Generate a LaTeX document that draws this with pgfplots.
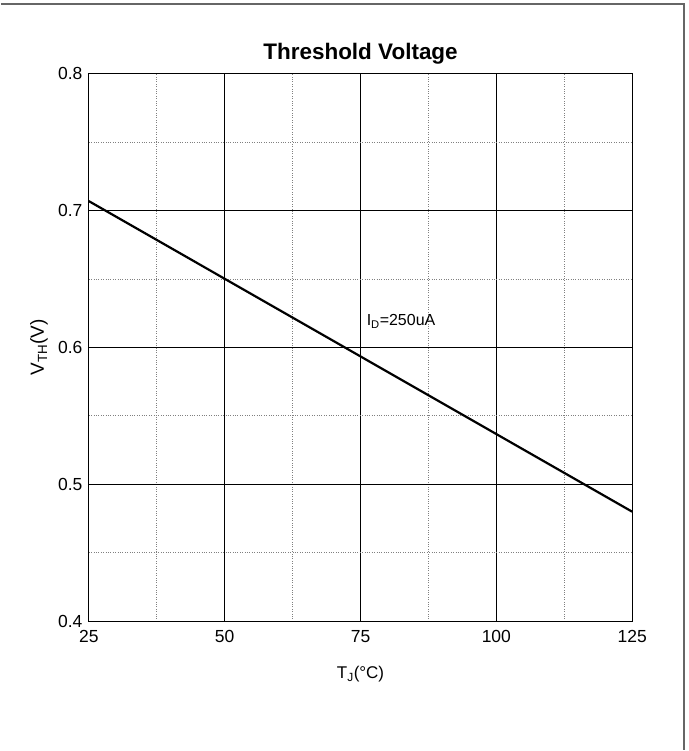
\documentclass[border=0pt]{standalone}
\usepackage{pgfplots}
\pgfplotsset{compat=1.18}
\usepackage{fontspec}
\setmainfont{Liberation Sans}
\begin{document}
\begin{tikzpicture}[x=1pt,y=1pt]
\path (0,0) rectangle (688,751);
\draw[line width=2pt, gray!80!black] (0,747) -- (684,747) -- (684,0);
\begin{axis}[
  at={(88pt,129pt)}, anchor=origin,
  scale only axis, width=544pt, height=548pt,
  xmin=25, xmax=125, ymin=0.4, ymax=0.8,
  xtick={25,50,75,100,125},
  ytick={0.4,0.5,0.6,0.7,0.8},
  minor xtick={37.5,62.5,87.5,112.5},
  minor ytick={0.45,0.55,0.65,0.75},
  yticklabel style={/pgf/number format/fixed, /pgf/number format/precision=1, /pgf/number format/fixed zerofill, xshift=-3pt},
  /pgf/number format/assume math mode=true,
  tick style={draw=none},
  grid=both,
  major grid style={black, line width=1.1pt},
  minor grid style={gray, dotted, line width=1pt},
  axis line style={black, line width=1.2pt},
  ticklabel style={font=\fontsize{17.5}{19}\selectfont},
  xticklabel style={yshift=-6pt},
  title={\bfseries Threshold Voltage},
  title style={font=\fontsize{22.5}{25}\selectfont\bfseries, yshift=0pt},
  xlabel={T\textsubscript{J}(\textdegree C)},
  ylabel={V\textsubscript{TH}(V)},
  xlabel style={font=\fontsize{17}{19}\selectfont, at={(axis description cs:0.5,-0.097)}, anchor=center},
  ylabel style={font=\fontsize{19}{21}\selectfont, at={(axis description cs:-0.092,0.5)}, anchor=center},
  clip=false,
]
\addplot[black, line width=2.2pt] coordinates {(25,0.707) (125,0.480)};
\node[anchor=west, font=\fontsize{16}{18}\selectfont] at (axis cs:75.5,0.619) {I\textsubscript{D}=250uA};
\end{axis}
\end{tikzpicture}
\end{document}
